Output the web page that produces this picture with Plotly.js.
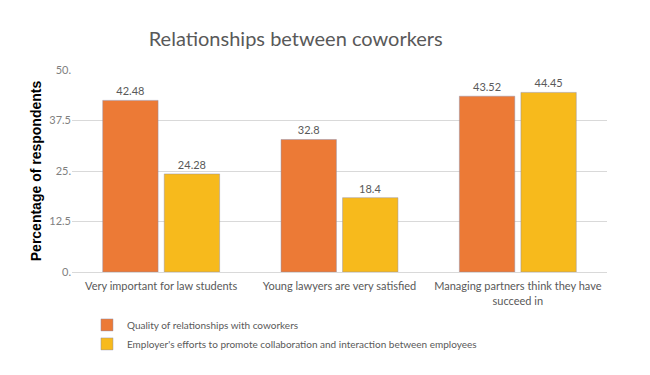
<!DOCTYPE html>
<html>
<head>
<meta charset="utf-8">
<script src="https://cdn.plot.ly/plotly-3.0.1.min.js"></script>
<style>html,body{margin:0;padding:0;background:#fff;}#chart{width:650px;height:375px;}</style>
</head>
<body>
<div id="chart"></div>
<script>
const categories = ["Very important for law students", "Young lawyers are very satisfied", "Managing partners think they have<br>succeed in"];
const seriesNames = ["Quality of relationships with coworkers", "Employer's efforts to promote collaboration and interaction between employees"];
const qualityValues = [42.48, 32.8, 43.52];
const effortValues = [24.28, 18.4, 44.45];
const tickValues = [0, 12.5, 25, 37.5, 50];
const tickLabels = ["0.", "12.5", "25.", "37.5", "50."];

const fontFam = "Lato, 'Open Sans', sans-serif";
const traces = [
  {
    type: "bar", name: seriesNames[0], x: categories, y: qualityValues,
    text: qualityValues.map(String), textposition: "outside",
    textfont: {color: "#595959", size: 11, family: fontFam},
    marker: {color: "#EC7A36", line: {color: "rgba(140,140,170,0.45)", width: 1}},
    cliponaxis: false
  },
  {
    type: "bar", name: seriesNames[1], x: categories, y: effortValues,
    text: effortValues.map(String), textposition: "outside",
    textfont: {color: "#595959", size: 11, family: fontFam},
    marker: {color: "#F7BA1C", line: {color: "rgba(140,140,170,0.45)", width: 1}},
    cliponaxis: false
  }
];

const layout = {
  width: 650, height: 375,
  margin: {l: 72, r: 43, t: 70, b: 103},
  paper_bgcolor: "#fff", plot_bgcolor: "#fff",
  font: {family: fontFam, color: "#595959", size: 11},
  title: {text: "Relationships between coworkers", x: 0.455, xanchor: "center", y: 0.895, yanchor: "middle",
          font: {family: fontFam, size: 20, color: "#595959"}},
  barmode: "group", bargap: 0.31, bargroupgap: 0.1,
  xaxis: {tickfont: {size: 11, color: "#595959"}, showline: true, linecolor: "#D9D9D9", ticks: "", showgrid: false,
          ticklabelstandoff: 4},
  yaxis: {range: [0, 50], tickvals: tickValues, ticktext: tickLabels, gridcolor: "#D9D9D9", gridwidth: 1,
          zeroline: false, showline: false, ticks: "", tickfont: {size: 11, color: "#7F7F7F"},
          title: {text: "Percentage of respondents", standoff: 4,
                  font: {family: "'Liberation Sans', Arial, sans-serif", size: 14, color: "#000", weight: "bold"}}},
  legend: {orientation: "v", x: 0.028, xanchor: "left", y: -0.19, yanchor: "top",
           font: {size: 10, color: "#595959"}, itemwidth: 30, tracegroupgap: 0},
  showlegend: true
};

Plotly.newPlot("chart", traces, layout, {displayModeBar: false, staticPlot: true});
</script>
</body>
</html>
